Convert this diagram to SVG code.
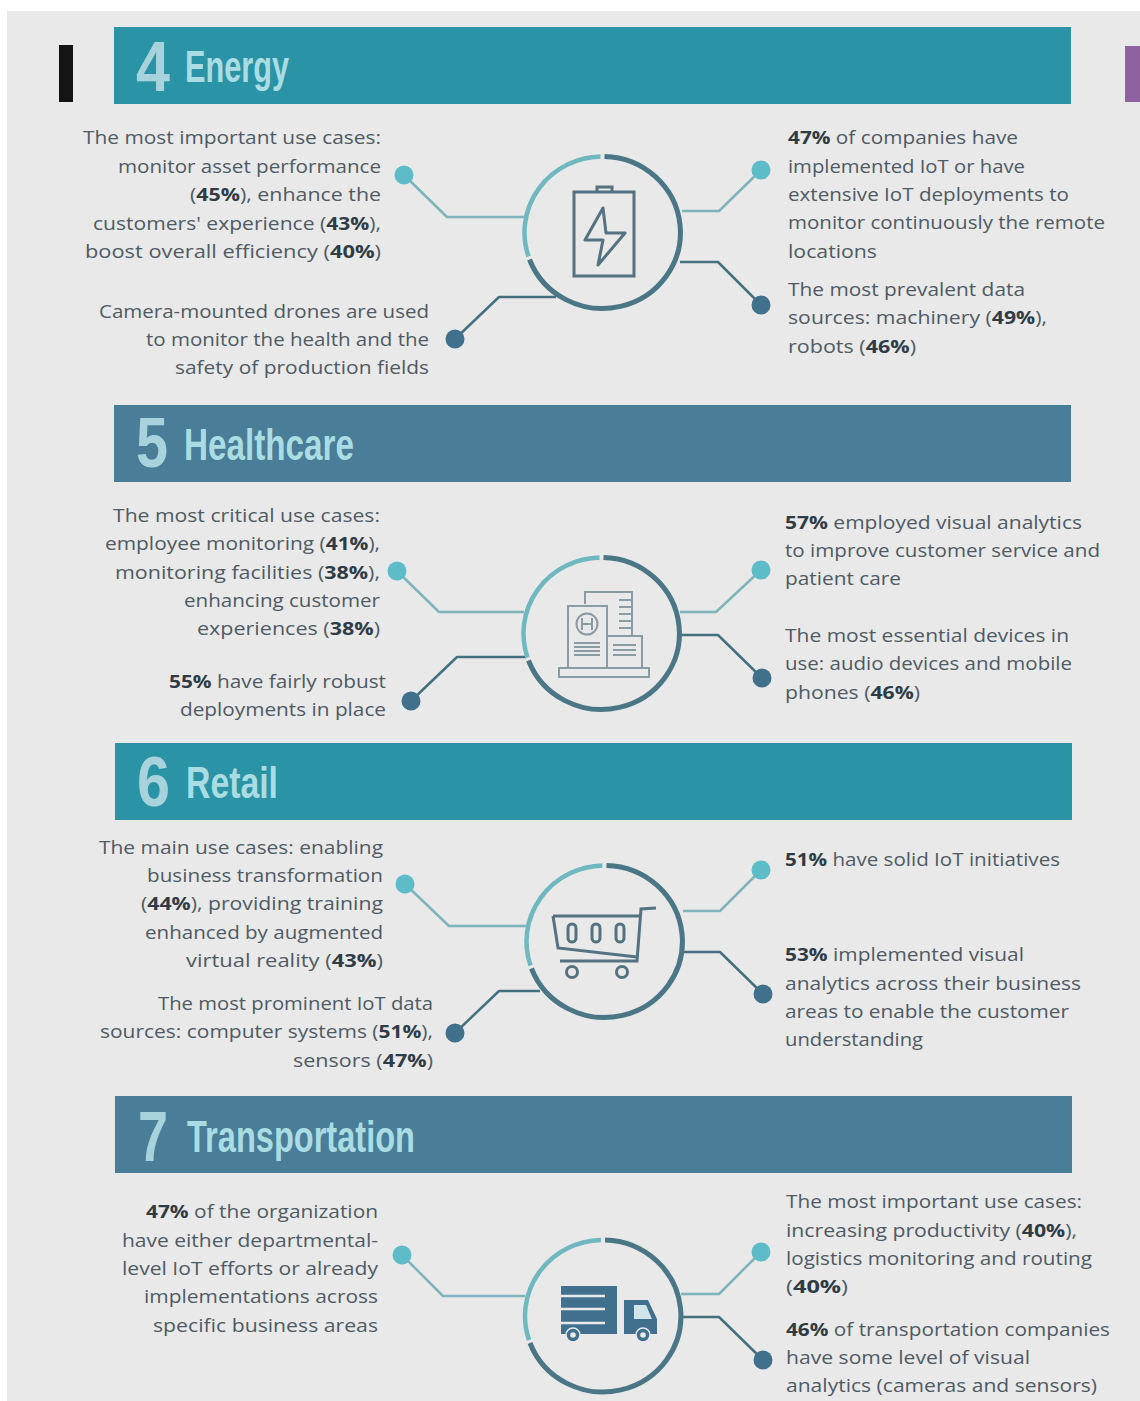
<svg xmlns="http://www.w3.org/2000/svg" width="1140" height="1401" viewBox="0 0 1140 1401">
<style>
.t{font-family:"Open Sans","Liberation Sans",sans-serif;font-size:18.5px;fill:#4f5a64;transform:translateY(1px)}
.t tspan{font-weight:700;fill:#2f3b45}
.h{font-family:"Liberation Sans Narrow","Liberation Sans",sans-serif;font-size:44px;font-weight:700;fill:#a9dde3}
.n{font-family:"Liberation Sans Narrow","Liberation Sans",sans-serif;font-size:70px;font-weight:700;fill:#a9d3dc}
.teal{fill:#2a94a6}.slate{fill:#4a7d97}
.cl,.cd{fill:none;stroke-width:2.5;stroke-linejoin:round}
.cl{stroke:#7fb4ba}.cd{stroke:#45707f}
.dl{fill:#5dbcc8}.dd{fill:#40708c}
.ic{fill:none;stroke:#54727f;stroke-width:3}
.ih{fill:none;stroke:#8a9ca3;stroke-width:2}
</style>
<defs>
<g id="ring">
<path d="M-2-76A78 76 0 0 0-74 24" fill="none" stroke="#6fb8c0" stroke-width="4.5"/>
<path d="M2-76A78 76 0 1 1-73 27" fill="none" stroke="#4b7686" stroke-width="5"/>
</g>
</defs>
<rect width="1140" height="1401" fill="#fff"/>
<rect x="7" y="11" width="1133" height="1390" fill="#e9e9e9"/>
<rect id="edge-black" x="59" y="45" width="14" height="57" fill="#141414"/>
<rect id="edge-purple" x="1125" y="46" width="15" height="56" fill="#8f629f"/>

<g id="connectors">
<path class="cl" d="M404 175L447 217H524"/><path class="cl" d="M761 170L719 211H682"/>
<path class="cd" d="M761 305L718 262H680"/><path class="cd" d="M455 339L499 297H556"/>
<path class="cl" d="M397 571L439 612H524"/><path class="cl" d="M761 570L716 612H680"/>
<path class="cd" d="M762 678L718 635H680"/><path class="cd" d="M411 701L457 657H526"/>
<path class="cl" d="M405 884L449 926H526"/><path class="cl" d="M761 870L720 911H683"/>
<path class="cd" d="M763 994L720 952H683"/><path class="cd" d="M455 1033L499 991H540"/>
<path class="cl" d="M402 1255L443 1296H525"/><path class="cl" d="M761 1252L719 1294H681"/>
<path class="cd" d="M763 1360L719 1317H681"/>
</g>

<g id="energy-header">
<rect class="teal" x="114" y="27" width="957" height="77"/>
<text class="n" x="136" y="91" textLength="34" lengthAdjust="spacingAndGlyphs">4</text>
<text class="h" x="185" y="82" textLength="104" lengthAdjust="spacingAndGlyphs">Energy</text>
</g>
<g id="energy-hub">
<use href="#ring" x="602.5" y="232.5"/>
<path class="ic" d="M574 192H634V276H574Z"/>
<path class="ic" d="M597 192V187H612V192"/>
<path class="ic" d="M603 208L585 240H603L598 265L625 233H606Z" stroke-linejoin="round"/>
</g>
<g id="energy-tl">
<circle class="dl" cx="404" cy="175" r="9.5"/>
<text class="t" x="83" y="143" textLength="298" lengthAdjust="spacingAndGlyphs">The most important use cases:</text>
<text class="t" x="118" y="172" textLength="263" lengthAdjust="spacingAndGlyphs">monitor asset performance</text>
<text class="t" x="190" y="200" textLength="191" lengthAdjust="spacingAndGlyphs">(<tspan>45%</tspan>), enhance the</text>
<text class="t" x="93" y="229" textLength="288" lengthAdjust="spacingAndGlyphs">customers' experience (<tspan>43%</tspan>),</text>
<text class="t" x="85" y="257" textLength="296" lengthAdjust="spacingAndGlyphs">boost overall efficiency (<tspan>40%</tspan>)</text>
</g>
<g id="energy-bl">
<circle class="dd" cx="455" cy="339" r="9.5"/>
<text class="t" x="99" y="317" textLength="330" lengthAdjust="spacingAndGlyphs">Camera-mounted drones are used</text>
<text class="t" x="146" y="345" textLength="283" lengthAdjust="spacingAndGlyphs">to monitor the health and the</text>
<text class="t" x="175" y="373" textLength="254" lengthAdjust="spacingAndGlyphs">safety of production fields</text>
</g>
<g id="energy-tr">
<circle class="dl" cx="761" cy="170" r="9.5"/>
<text class="t" x="788" y="143" textLength="230" lengthAdjust="spacingAndGlyphs"><tspan>47%</tspan> of companies have</text>
<text class="t" x="788" y="172" textLength="237" lengthAdjust="spacingAndGlyphs">implemented IoT or have</text>
<text class="t" x="788" y="200" textLength="281" lengthAdjust="spacingAndGlyphs">extensive IoT deployments to</text>
<text class="t" x="788" y="228" textLength="317" lengthAdjust="spacingAndGlyphs">monitor continuously the remote</text>
<text class="t" x="788" y="257" textLength="89" lengthAdjust="spacingAndGlyphs">locations</text>
</g>
<g id="energy-br">
<circle class="dd" cx="761" cy="305" r="9.5"/>
<text class="t" x="788" y="295" textLength="237" lengthAdjust="spacingAndGlyphs">The most prevalent data</text>
<text class="t" x="788" y="323" textLength="259" lengthAdjust="spacingAndGlyphs">sources: machinery (<tspan>49%</tspan>),</text>
<text class="t" x="788" y="352" textLength="128" lengthAdjust="spacingAndGlyphs">robots (<tspan>46%</tspan>)</text>
</g>

<g id="healthcare-header">
<rect class="slate" x="114" y="405" width="957" height="77"/>
<text class="n" x="136" y="467" textLength="32" lengthAdjust="spacingAndGlyphs">5</text>
<text class="h" x="184" y="460" textLength="170" lengthAdjust="spacingAndGlyphs">Healthcare</text>
</g>
<g id="healthcare-hub">
<use href="#ring" x="601.5" y="633.5"/>
<path class="ih" d="M585 604V592H632V636"/>
<path class="ih" d="M568 668V606H607V668M607 636H642V668"/>
<path class="ih" d="M559 668H649V677H559Z"/>
<circle class="ih" cx="587" cy="624" r="10.5"/>
<path class="ih" d="M582 618V630M592 618V630M582 624H592" stroke-width="1.5"/>
<path class="ih" d="M619 600H632M619 607H632M619 614H632M619 621H632M619 628H632M574 643H600M574 647H600M574 651H600M574 655H600M613 645H636M613 650H636M613 655H636"/>
</g>
<g id="healthcare-tl">
<circle class="dl" cx="397" cy="571" r="9.5"/>
<text class="t" x="113" y="521" textLength="267" lengthAdjust="spacingAndGlyphs">The most critical use cases:</text>
<text class="t" x="105" y="549" textLength="275" lengthAdjust="spacingAndGlyphs">employee monitoring (<tspan>41%</tspan>),</text>
<text class="t" x="115" y="578" textLength="265" lengthAdjust="spacingAndGlyphs">monitoring facilities (<tspan>38%</tspan>),</text>
<text class="t" x="184" y="606" textLength="196" lengthAdjust="spacingAndGlyphs">enhancing customer</text>
<text class="t" x="197" y="634" textLength="183" lengthAdjust="spacingAndGlyphs">experiences (<tspan>38%</tspan>)</text>
</g>
<g id="healthcare-bl">
<circle class="dd" cx="411" cy="701" r="9.5"/>
<text class="t" x="169" y="687" textLength="217" lengthAdjust="spacingAndGlyphs"><tspan>55%</tspan> have fairly robust</text>
<text class="t" x="180" y="715" textLength="206" lengthAdjust="spacingAndGlyphs">deployments in place</text>
</g>
<g id="healthcare-tr">
<circle class="dl" cx="761" cy="570" r="9.5"/>
<text class="t" x="785" y="528" textLength="297" lengthAdjust="spacingAndGlyphs"><tspan>57%</tspan> employed visual analytics</text>
<text class="t" x="785" y="556" textLength="315" lengthAdjust="spacingAndGlyphs">to improve customer service and</text>
<text class="t" x="785" y="584" textLength="116" lengthAdjust="spacingAndGlyphs">patient care</text>
</g>
<g id="healthcare-br">
<circle class="dd" cx="762" cy="678" r="9.5"/>
<text class="t" x="785" y="641" textLength="284" lengthAdjust="spacingAndGlyphs">The most essential devices in</text>
<text class="t" x="785" y="669" textLength="287" lengthAdjust="spacingAndGlyphs">use: audio devices and mobile</text>
<text class="t" x="785" y="698" textLength="135" lengthAdjust="spacingAndGlyphs">phones (<tspan>46%</tspan>)</text>
</g>

<g id="retail-header">
<rect class="teal" x="115" y="743" width="957" height="77"/>
<text class="n" x="137" y="806" textLength="33" lengthAdjust="spacingAndGlyphs">6</text>
<text class="h" x="186" y="798" textLength="92" lengthAdjust="spacingAndGlyphs">Retail</text>
</g>
<g id="retail-hub">
<use href="#ring" x="604.5" y="941.5"/>
<path class="ic" d="M656 908L641 909L637 961H560M553 916H640M553 916L558 948L637 957"/>
<circle class="ic" cx="572" cy="972" r="5.5"/><circle class="ic" cx="622" cy="972" r="5.5"/>
<rect class="ic" x="568" y="924" width="8" height="18" rx="4"/>
<rect class="ic" x="592" y="924" width="8" height="18" rx="4"/>
<rect class="ic" x="616" y="924" width="8" height="18" rx="4"/>
</g>
<g id="retail-tl">
<circle class="dl" cx="405" cy="884" r="9.5"/>
<text class="t" x="99" y="853" textLength="284" lengthAdjust="spacingAndGlyphs">The main use cases: enabling</text>
<text class="t" x="147" y="881" textLength="236" lengthAdjust="spacingAndGlyphs">business transformation</text>
<text class="t" x="141" y="909" textLength="242" lengthAdjust="spacingAndGlyphs">(<tspan>44%</tspan>), providing training</text>
<text class="t" x="145" y="938" textLength="238" lengthAdjust="spacingAndGlyphs">enhanced by augmented</text>
<text class="t" x="186" y="966" textLength="197" lengthAdjust="spacingAndGlyphs">virtual reality (<tspan>43%</tspan>)</text>
</g>
<g id="retail-bl">
<circle class="dd" cx="455" cy="1033" r="9.5"/>
<text class="t" x="158" y="1009" textLength="275" lengthAdjust="spacingAndGlyphs">The most prominent IoT data</text>
<text class="t" x="100" y="1037" textLength="333" lengthAdjust="spacingAndGlyphs">sources: computer systems (<tspan>51%</tspan>),</text>
<text class="t" x="293" y="1066" textLength="140" lengthAdjust="spacingAndGlyphs">sensors (<tspan>47%</tspan>)</text>
</g>
<g id="retail-tr">
<circle class="dl" cx="761" cy="870" r="9.5"/>
<text class="t" x="785" y="865" textLength="275" lengthAdjust="spacingAndGlyphs"><tspan>51%</tspan> have solid IoT initiatives</text>
</g>
<g id="retail-br">
<circle class="dd" cx="763" cy="994" r="9.5"/>
<text class="t" x="785" y="960" textLength="239" lengthAdjust="spacingAndGlyphs"><tspan>53%</tspan> implemented visual</text>
<text class="t" x="785" y="989" textLength="296" lengthAdjust="spacingAndGlyphs">analytics across their business</text>
<text class="t" x="785" y="1017" textLength="284" lengthAdjust="spacingAndGlyphs">areas to enable the customer</text>
<text class="t" x="785" y="1045" textLength="138" lengthAdjust="spacingAndGlyphs">understanding</text>
</g>

<g id="transportation-header">
<rect class="slate" x="115" y="1096" width="957" height="77"/>
<text class="n" x="138" y="1161" textLength="30" lengthAdjust="spacingAndGlyphs">7</text>
<text class="h" x="187" y="1152" textLength="228" lengthAdjust="spacingAndGlyphs">Transportation</text>
</g>
<g id="transportation-hub">
<use href="#ring" x="603" y="1316"/>
<path fill="#41708f" d="M561 1286H617V1334H561ZM624 1300H648L657 1319V1334H624Z"/>
<path fill="#cfe3ea" d="M634 1305H646L652 1319H634Z"/>
<path stroke="#e9e9e9" stroke-width="2.5" fill="none" d="M561 1296H605M561 1309H605M561 1323H605"/>
<circle cx="573" cy="1335" r="7" fill="#41708f" stroke="#e9e9e9" stroke-width="1.5"/><circle cx="573" cy="1335" r="2.8" fill="#e9e9e9"/>
<circle cx="643" cy="1335" r="7" fill="#41708f" stroke="#e9e9e9" stroke-width="1.5"/><circle cx="643" cy="1335" r="2.8" fill="#e9e9e9"/>
</g>
<g id="transportation-tl">
<circle class="dl" cx="402" cy="1255" r="9.5"/>
<text class="t" x="146" y="1217" textLength="232" lengthAdjust="spacingAndGlyphs"><tspan>47%</tspan> of the organization</text>
<text class="t" x="122" y="1246" textLength="256" lengthAdjust="spacingAndGlyphs">have either departmental-</text>
<text class="t" x="122" y="1274" textLength="256" lengthAdjust="spacingAndGlyphs">level IoT efforts or already</text>
<text class="t" x="144" y="1302" textLength="234" lengthAdjust="spacingAndGlyphs">implementations across</text>
<text class="t" x="153" y="1331" textLength="225" lengthAdjust="spacingAndGlyphs">specific business areas</text>
</g>
<g id="transportation-tr">
<circle class="dl" cx="761" cy="1252" r="9.5"/>
<text class="t" x="786" y="1207" textLength="296" lengthAdjust="spacingAndGlyphs">The most important use cases:</text>
<text class="t" x="786" y="1236" textLength="291" lengthAdjust="spacingAndGlyphs">increasing productivity (<tspan>40%</tspan>),</text>
<text class="t" x="786" y="1264" textLength="306" lengthAdjust="spacingAndGlyphs">logistics monitoring and routing</text>
<text class="t" x="786" y="1292" textLength="62" lengthAdjust="spacingAndGlyphs">(<tspan>40%</tspan>)</text>
</g>
<g id="transportation-br">
<circle class="dd" cx="763" cy="1360" r="9.5"/>
<text class="t" x="786" y="1335" textLength="324" lengthAdjust="spacingAndGlyphs"><tspan>46%</tspan> of transportation companies</text>
<text class="t" x="786" y="1363" textLength="244" lengthAdjust="spacingAndGlyphs">have some level of visual</text>
<text class="t" x="786" y="1391" textLength="311" lengthAdjust="spacingAndGlyphs">analytics (cameras and sensors)</text>
</g>
</svg>
